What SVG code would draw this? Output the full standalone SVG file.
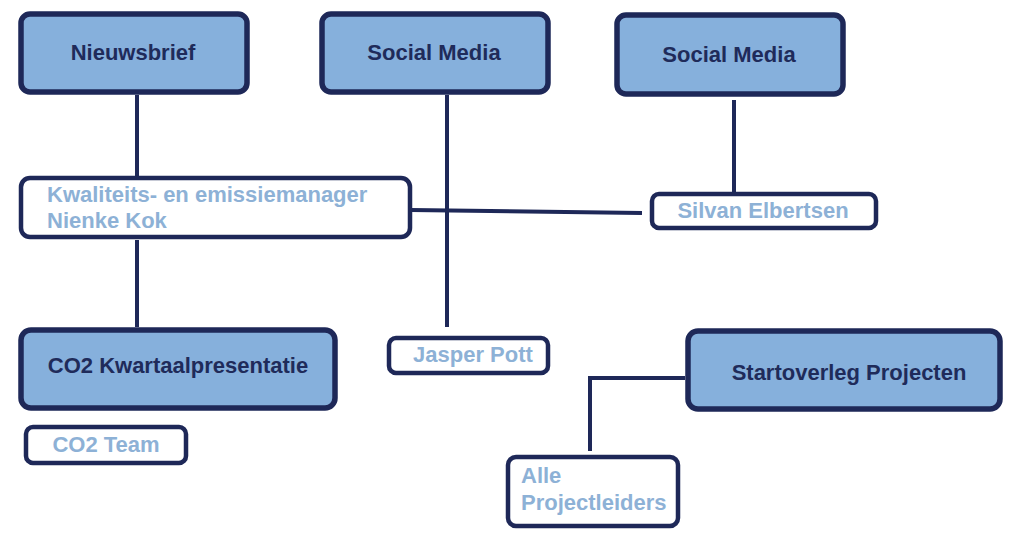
<svg xmlns="http://www.w3.org/2000/svg" width="1024" height="540" viewBox="0 0 1024 540">
<style>
.main{fill:#86B0DC;stroke:#1E2858;stroke-width:5.5}
.sub{fill:#FFFFFF;stroke:#1E2858;stroke-width:4.5}
.t1{font-family:"Liberation Sans",Arial,sans-serif;font-weight:bold;font-size:22px;fill:#1F2B5A;text-anchor:middle}
.t2{font-family:"Liberation Sans",Arial,sans-serif;font-weight:bold;font-size:22px;fill:#8DB1D6}
.c{fill:none;stroke:#1E2858;stroke-width:4}
</style>
<rect width="1024" height="540" fill="#FFFFFF"/>
<g id="connectors">
<line class="c" x1="137" y1="95" x2="137" y2="177"/>
<line class="c" x1="137" y1="240" x2="137" y2="327"/>
<line class="c" x1="447" y1="95" x2="447" y2="327"/>
<line class="c" x1="411" y1="210" x2="642" y2="213"/>
<line class="c" x1="734" y1="100" x2="734" y2="192"/>
<polyline class="c" points="685,378 590,378 590,451"/>
</g>
<g id="nieuwsbrief">
<rect class="main" x="21" y="14" width="226" height="78" rx="9"/>
<text class="t1" x="133" y="60">Nieuwsbrief</text>
</g>
<g id="social-media-1">
<rect class="main" x="322" y="14" width="226" height="78" rx="9"/>
<text class="t1" x="434" y="60">Social Media</text>
</g>
<g id="social-media-2">
<rect class="main" x="617" y="15" width="226" height="79" rx="9"/>
<text class="t1" x="729" y="62">Social Media</text>
</g>
<g id="kwaliteitsmanager">
<rect class="sub" x="21" y="178" width="389" height="59" rx="9"/>
<text class="t2" x="47" y="202">Kwaliteits- en emissiemanager</text>
<text class="t2" x="47" y="228">Nienke Kok</text>
</g>
<g id="silvan">
<rect class="sub" x="652" y="194" width="224" height="34" rx="7"/>
<text class="t2" x="763" y="218" text-anchor="middle">Silvan Elbertsen</text>
</g>
<g id="jasper">
<rect class="sub" x="389" y="338" width="159" height="35" rx="7"/>
<text class="t2" x="413" y="362">Jasper Pott</text>
</g>
<g id="co2-kwartaal">
<rect class="main" x="21" y="330" width="314" height="78" rx="10"/>
<text class="t1" x="178" y="373">CO2 Kwartaalpresentatie</text>
</g>
<g id="co2-team">
<rect class="sub" x="26" y="427" width="160" height="36" rx="7"/>
<text class="t2" x="106" y="452" text-anchor="middle">CO2 Team</text>
</g>
<g id="startoverleg">
<rect class="main" x="688" y="331" width="312" height="78" rx="10"/>
<text class="t1" x="849" y="380">Startoverleg Projecten</text>
</g>
<g id="alle-projectleiders">
<rect class="sub" x="508" y="457" width="170" height="69" rx="8"/>
<text class="t2" x="521" y="483">Alle</text>
<text class="t2" x="521" y="510">Projectleiders</text>
</g>
</svg>
